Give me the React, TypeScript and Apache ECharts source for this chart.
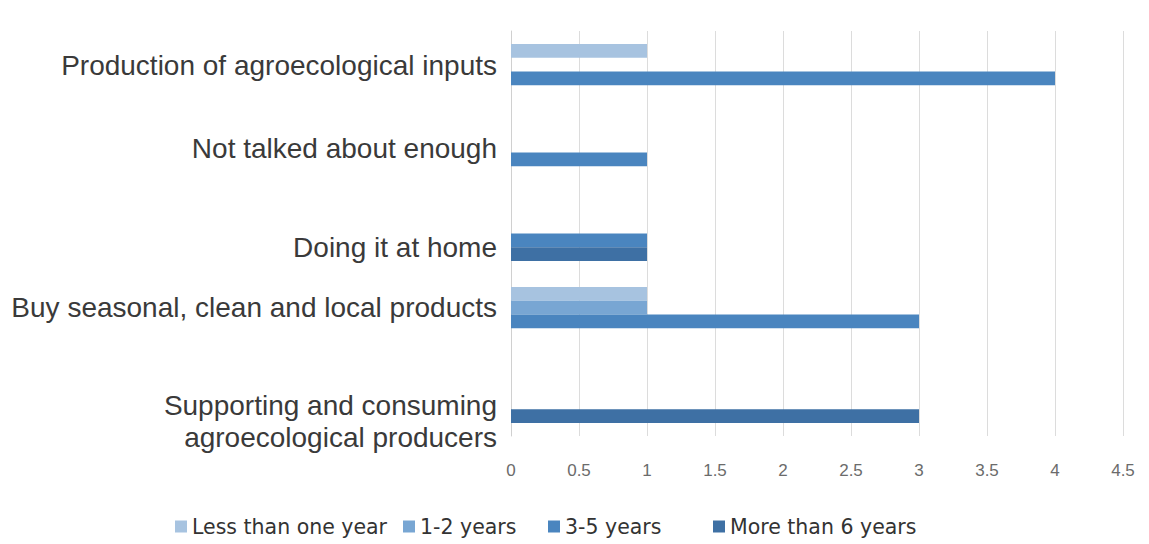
import React, { useEffect, useRef } from "react";
import * as echarts from "echarts";

const categories = [
  "Production of agroecological inputs",
  "Not talked about enough",
  "Doing it at home",
  "Buy seasonal, clean and local products",
  "Supporting and consuming\nagroecological producers",
];
const seriesNames = ["Less than one year", "1-2 years", "3-5 years", "More than 6 years"];
const lessThanOneYear = [1, 0, 0, 1, 0];
const oneToTwoYears = [0, 0, 0, 1, 0];
const threeToFiveYears = [4, 1, 1, 3, 0];
const moreThanSixYears = [0, 0, 1, 0, 3];
const xTicks = [0, 0.5, 1, 1.5, 2, 2.5, 3, 3.5, 4, 4.5];

const colors = ["#a7c3e0", "#78a6d3", "#4a85bf", "#3e70a4"];
const labelShift = [-6, -4, 14, -7, 26];
const legendLeft = [170, 398, 543, 708];

export default function App() {
  const ref = useRef<HTMLDivElement>(null);
  useEffect(() => {
    if (!ref.current) return;
    const chart = echarts.init(ref.current, undefined, { renderer: "svg" });
    const values = [lessThanOneYear, oneToTwoYears, threeToFiveYears, moreThanSixYears];
    const rich: Record<string, any> = {};
    labelShift.forEach((s, i) => {
      rich["c" + i] = {
        fontSize: 28,
        fontFamily: "Liberation Sans, Arial, sans-serif",
        color: "#3a3a3a",
        lineHeight: 32,
        align: "right",
        padding: s >= 0 ? [s * 2, 0, 0, 0] : [0, 0, -s * 2, 0],
      };
    });
    chart.setOption({
      animation: false,
      backgroundColor: "#ffffff",
      grid: { left: 511, right: 26, top: 31, bottom: 108, containLabel: false },
      legend: seriesNames.map((name, i) => ({
        data: [name],
        left: legendLeft[i],
        top: 511,
        itemWidth: 12,
        itemHeight: 12,
        icon: "rect",
        textStyle: { fontSize: 20.5, color: "#333", fontFamily: "DejaVu Sans, Verdana, sans-serif" },
      })),
      xAxis: {
        type: "value",
        min: 0,
        max: 4.5,
        interval: 0.5,
        axisLine: { show: false },
        axisTick: { show: false },
        splitLine: { show: true, lineStyle: { color: "#dcdcdc", width: 1 } },
        axisLabel: {
          margin: 26,
          fontSize: 17,
          color: "#6b6b6b",
          fontFamily: "Liberation Sans, Arial, sans-serif",
          formatter: (v: number) => (xTicks.includes(v) ? String(v) : ""),
        },
      },
      yAxis: {
        type: "category",
        data: categories,
        inverse: true,
        axisLine: { show: true, lineStyle: { color: "#d0d0d0" } },
        axisTick: { show: false },
        axisLabel: {
          margin: 14,
          formatter: (v: string) => {
            const i = categories.indexOf(v);
            return v
              .split("\n")
              .map((line) => `{c${i}|${line}}`)
              .join("\n");
          },
          rich,
        },
      },
      series: seriesNames.map((name, i) => ({
        name,
        type: "bar",
        data: values[i],
        barGap: "0%",
        barCategoryGap: "32%",
        itemStyle: { color: colors[i] },
      })),
    });
    return () => chart.dispose();
  }, []);
  return <div ref={ref} style={{ width: 1149, height: 544, margin: "-8px -8px 0" }} />;
}
